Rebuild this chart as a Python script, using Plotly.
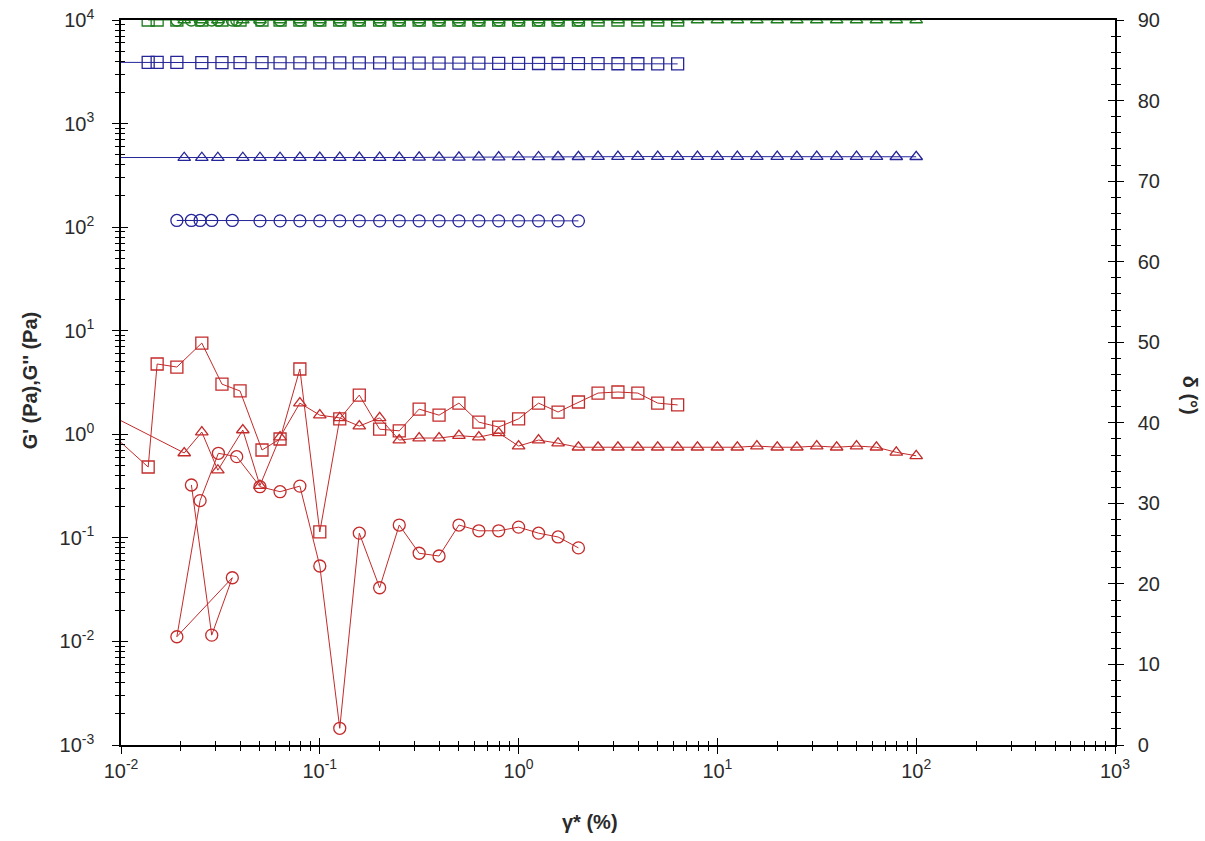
import plotly.graph_objects as go

# Strain amplitude (%) for each sweep
sq_x = [0.009, 0.0137, 0.0152, 0.0191, 0.0255, 0.0322, 0.0397, 0.0512, 0.0631, 0.0794,
        0.1, 0.126, 0.158, 0.2, 0.251, 0.316, 0.398, 0.501, 0.631, 0.794,
        1.0, 1.26, 1.58, 2.0, 2.51, 3.16, 3.98, 5.01, 6.31]
tri_x = [0.009, 0.0208, 0.0255, 0.0307, 0.041, 0.050, 0.0631, 0.0794, 0.1, 0.126,
         0.158, 0.2, 0.251, 0.316, 0.398, 0.501, 0.631, 0.794, 1.0, 1.26,
         1.58, 2.0, 2.51, 3.16, 3.98, 5.01, 6.31, 7.94, 10.0, 12.6,
         15.8, 20.0, 25.1, 31.6, 39.8, 50.1, 63.1, 79.4, 100.0]
circ_x = [0.0226, 0.0286, 0.0363, 0.0191, 0.0250, 0.0309, 0.0382, 0.050, 0.0631, 0.0794,
          0.1, 0.126, 0.158, 0.2, 0.251, 0.316, 0.398, 0.501, 0.631, 0.794,
          1.0, 1.26, 1.58, 2.0]
circ_x_gp = [0.0226, 0.0286, 0.0363, 0.0191, 0.0250, 0.050, 0.0631, 0.0794,
             0.1, 0.126, 0.158, 0.2, 0.251, 0.316, 0.398, 0.501, 0.631, 0.794,
             1.0, 1.26, 1.58, 2.0]

# Storage modulus G' (Pa)
gp_sq = [3900, 3900, 3900, 3890, 3880, 3880, 3870, 3870, 3860, 3860,
         3860, 3850, 3850, 3850, 3840, 3840, 3840, 3830, 3830, 3820,
         3810, 3800, 3800, 3790, 3790, 3780, 3780, 3770, 3770]
gp_tri = [470, 468, 468, 468, 468, 468, 468, 470, 470, 470,
          470, 470, 470, 472, 472, 472, 474, 474, 476, 476,
          478, 478, 480, 480, 480, 480, 480, 480, 480, 480,
          480, 480, 480, 480, 480, 480, 480, 478, 478]
gp_circ = [116, 116, 116, 116, 116, 115, 115, 115,
           115, 115, 115, 115, 115, 115, 115, 115, 115, 115,
           115, 115, 115, 115]

# Loss modulus G'' (Pa)
gpp_sq = [1.0, 0.483, 4.77, 4.46, 7.6, 3.05, 2.62, 0.705, 0.90, 4.27,
          0.114, 1.41, 2.39, 1.12, 1.08, 1.75, 1.53, 2.0, 1.31, 1.175,
          1.41, 2.0, 1.64, 2.05, 2.5, 2.56, 2.5, 2.0, 1.92]
gpp_tri = [1.5, 0.66, 1.05, 0.45, 1.10, 0.32, 0.94, 2.0, 1.53, 1.44,
           1.20, 1.44, 0.88, 0.92, 0.92, 0.97, 0.94, 1.03, 0.77, 0.88,
           0.82, 0.75, 0.75, 0.75, 0.75, 0.75, 0.75, 0.75, 0.75, 0.75,
           0.77, 0.75, 0.75, 0.77, 0.75, 0.77, 0.75, 0.67, 0.62]
gpp_circ = [0.324, 0.0115, 0.0412, 0.0111, 0.229, 0.655, 0.608, 0.312, 0.279, 0.316,
            0.0535, 0.00145, 0.111, 0.033, 0.133, 0.071, 0.0668, 0.133, 0.117, 0.117,
            0.127, 0.111, 0.102, 0.080]

# Phase angle delta (deg)
delta_sq = [90.0] * (len(sq_x) - 1)
delta_tri = [90.0] * (len(tri_x) - 1)
delta_circ = [90.0] * len(circ_x)

x_major = [0.01, 0.1, 1, 10, 100, 1000]
x_major_text = ["10<sup>-2</sup>", "10<sup>-1</sup>", "10<sup>0</sup>",
                "10<sup>1</sup>", "10<sup>2</sup>", "10<sup>3</sup>"]
y_major = [1e-3, 1e-2, 1e-1, 1, 10, 100, 1000, 1e4]
y_major_text = ["10<sup>-3</sup>", "10<sup>-2</sup>", "10<sup>-1</sup>", "10<sup>0</sup>",
                "10<sup>1</sup>", "10<sup>2</sup>", "10<sup>3</sup>", "10<sup>4</sup>"]

x_minor = [k * 10.0 ** n for n in range(-2, 3) for k in range(2, 10)]
y_minor = [k * 10.0 ** n for n in range(-3, 4) for k in range(2, 10)]

BLUE = "#25259a"
RED = "#c42a2a"
GREEN = "#1f7d1f"
FONT = "Liberation Sans, Arial, sans-serif"
TXT = "#2a2a2a"

fig = go.Figure()


def add_series(x, y, symbol, size, color, yaxis="y"):
    fig.add_trace(go.Scatter(
        x=x, y=y, mode="lines+markers", yaxis=yaxis,
        line=dict(color=color, width=1),
        marker=dict(symbol=symbol, size=size, color=color, line=dict(color=color, width=1.3)),
        showlegend=False, hoverinfo="x+y",
    ))


# G' (blue)
add_series(sq_x, gp_sq, "square-open", 12, BLUE)
add_series(tri_x, gp_tri, "triangle-up-open", 11, BLUE)
add_series(circ_x_gp, gp_circ, "circle-open", 12, BLUE)
# G'' (red)
add_series(sq_x, gpp_sq, "square-open", 12, RED)
add_series(tri_x, gpp_tri, "triangle-up-open", 11, RED)
add_series(circ_x, gpp_circ, "circle-open", 12, RED)
# delta (green, right axis)
add_series(sq_x[1:], delta_sq, "square-open", 12, GREEN, yaxis="y2")
add_series(tri_x[1:], delta_tri, "triangle-up-open", 11, GREEN, yaxis="y2")
add_series(circ_x, delta_circ, "circle-open", 12, GREEN, yaxis="y2")

# empty traces that carry the inward half of the crossing ticks
fig.add_trace(go.Scatter(x=[], y=[], xaxis="x2", yaxis="y3", showlegend=False, hoverinfo="skip"))
fig.add_trace(go.Scatter(x=[], y=[], xaxis="x2", yaxis="y4", showlegend=False, hoverinfo="skip"))

tickfont = dict(family=FONT, size=20, color=TXT)

fig.update_layout(
    width=1205, height=841,
    margin=dict(l=121, r=90, t=20, b=96, autoexpand=False),
    paper_bgcolor="white", plot_bgcolor="white",
    xaxis=dict(
        type="log", range=[-2, 3], tickvals=x_major, ticktext=x_major_text,
        ticks="outside", ticklen=7, tickwidth=1, tickcolor="black",
        minor=dict(tickvals=x_minor, ticks="outside", ticklen=4, tickcolor="black", showgrid=False),
        showline=True, linecolor="black", linewidth=1.5, mirror=True,
        showgrid=False, zeroline=False, tickfont=tickfont, automargin=False,
    ),
    xaxis2=dict(
        type="log", range=[-2, 3], overlaying="x", side="bottom", anchor="y3",
        tickvals=x_major, ticks="inside", ticklen=7, tickcolor="black",
        minor=dict(tickvals=x_minor, ticks="inside", ticklen=4, tickcolor="black", showgrid=False),
        showticklabels=False, showline=False, showgrid=False, zeroline=False, automargin=False,
    ),
    yaxis=dict(
        type="log", range=[-3, 4], tickvals=y_major, ticktext=y_major_text,
        ticks="outside", ticklen=7, tickwidth=1, tickcolor="black",
        minor=dict(tickvals=y_minor, ticks="outside", ticklen=4, tickcolor="black", showgrid=False),
        showline=True, linecolor="black", linewidth=1.5,
        showgrid=False, zeroline=False, tickfont=tickfont, ticklabelstandoff=14, automargin=False,
    ),
    yaxis2=dict(
        range=[0, 90], overlaying="y", side="right", anchor="x",
        dtick=10, ticks="outside", ticklen=7, tickcolor="black",
        minor=dict(dtick=2, ticks="outside", ticklen=4, tickcolor="black", showgrid=False),
        showline=True, linecolor="black", linewidth=1.5,
        showgrid=False, zeroline=False, tickfont=tickfont, ticklabelstandoff=10, automargin=False,
    ),
    yaxis3=dict(
        type="log", range=[-3, 4], overlaying="y", side="left", anchor="x2",
        tickvals=y_major, ticks="inside", ticklen=7, tickcolor="black",
        minor=dict(tickvals=y_minor, ticks="inside", ticklen=4, tickcolor="black", showgrid=False),
        showticklabels=False, showline=False, showgrid=False, zeroline=False, automargin=False,
    ),
    yaxis4=dict(
        range=[0, 90], overlaying="y", side="right", anchor="x2",
        dtick=10, ticks="inside", ticklen=7, tickcolor="black",
        minor=dict(dtick=2, ticks="inside", ticklen=4, tickcolor="black", showgrid=False),
        showticklabels=False, showline=False, showgrid=False, zeroline=False, automargin=False,
    ),
    annotations=[
        dict(text="<b>G' (Pa),G'' (Pa)</b>", xref="paper", yref="paper",
             x=-0.0915, y=0.503, xanchor="center", yanchor="middle",
             textangle=-90, showarrow=False,
             font=dict(family=FONT, size=20, color=TXT)),
        dict(text="<b>γ* (%)</b>", xref="paper", yref="paper",
             x=0.472, y=-0.106, xanchor="center", yanchor="middle", showarrow=False,
             font=dict(family=FONT, size=20, color=TXT)),
        dict(text="<b>δ (°)</b>", xref="paper", yref="paper",
             x=1.0755, y=0.483, xanchor="center", yanchor="middle",
             textangle=90, showarrow=False,
             font=dict(family=FONT, size=20, color=TXT)),
    ],
)

fig.write_html("out.html")
